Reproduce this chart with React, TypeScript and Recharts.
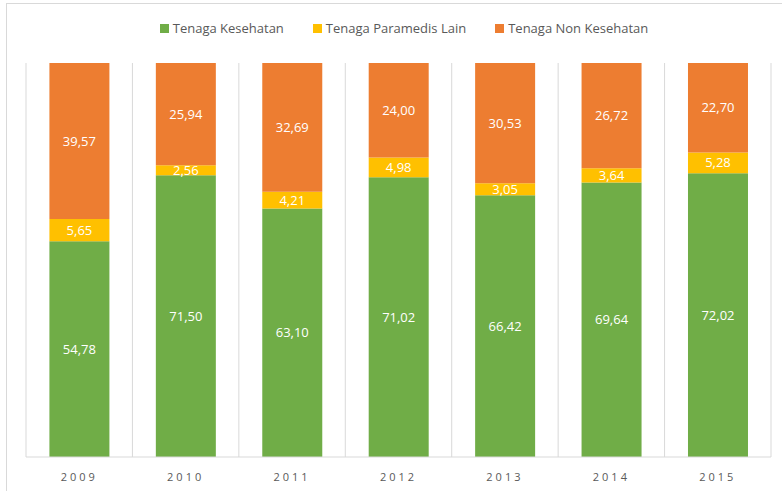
import React from 'react';
import { BarChart, Bar, XAxis, YAxis, CartesianGrid, LabelList } from 'recharts';

const years = ['2009', '2010', '2011', '2012', '2013', '2014', '2015'];
const kesehatan = [54.78, 71.5, 63.1, 71.02, 66.42, 69.64, 72.02];
const paramedis = [5.65, 2.56, 4.21, 4.98, 3.05, 3.64, 5.28];
const nonKesehatan = [39.57, 25.94, 32.69, 24.0, 30.53, 26.72, 22.7];
const gridTicks = [0, 1, 2, 3, 4, 5, 6, 7];

const series = [
  { key: 'kesehatan', name: 'Tenaga Kesehatan', color: '#70AD47' },
  { key: 'paramedis', name: 'Tenaga Paramedis Lain', color: '#FFC000' },
  { key: 'nonKesehatan', name: 'Tenaga Non Kesehatan', color: '#ED7D31' },
];

const data = years.map((year, i) => ({
  year,
  pos: i + 0.5,
  kesehatan: kesehatan[i],
  paramedis: paramedis[i],
  nonKesehatan: nonKesehatan[i],
}));

const FONT = '"Open Sans", sans-serif';
const fmt = (v: any) => Number(v).toFixed(2).replace('.', ',');

export default function App() {
  return (
    <div style={{ position: 'absolute', left: 0, top: 0, width: 782, height: 491, overflow: 'hidden', background: '#fff', fontFamily: FONT }}>
      <div
        style={{
          position: 'absolute',
          left: 6,
          top: 3,
          width: 800,
          height: 520,
          border: '1px solid #D9D9D9',
        }}
      />
      {/* legend */}
      <div
        style={{
          position: 'absolute',
          left: 0,
          top: 18,
          width: 808,
          display: 'flex',
          justifyContent: 'center',
          gap: 29,
          fontSize: 13,
          color: '#595959',
          lineHeight: '20px',
        }}
      >
        {series.map((s) => (
          <div key={s.key} style={{ display: 'flex', alignItems: 'center' }}>
            <span style={{ display: 'inline-block', width: 9, height: 9, background: s.color, marginRight: 4 }} />
            <span>{s.name}</span>
          </div>
        ))}
      </div>
      <div style={{ position: 'absolute', left: 0, top: 0 }}>
        <BarChart
          width={782}
          height={491}
          data={data}
          margin={{ top: 63, right: 11, left: 26, bottom: 0 }}
          barCategoryGap="22%"
          style={{ fontFamily: FONT }}
        >
          <XAxis
            xAxisId="grid"
            type="number"
            dataKey="pos"
            domain={[0, 7]}
            ticks={gridTicks}
            hide
          />
          <CartesianGrid xAxisId="grid" horizontal={false} stroke="#D9D9D9" />
          <XAxis
            xAxisId="cat"
            dataKey="year"
            height={34}
            axisLine={{ stroke: '#D9D9D9' }}
            tickLine={false}
            tick={{ fill: '#595959', fontSize: 11, letterSpacing: 3 }}
            tickMargin={10}
          />
          <YAxis domain={[0, 100]} hide />
          {series.map((s) => (
            <Bar
              key={s.key}
              xAxisId="cat"
              dataKey={s.key}
              name={s.name}
              stackId="a"
              fill={s.color}
              isAnimationActive={false}
            >
              <LabelList
                dataKey={s.key}
                position="center"
                fill="#ffffff"
                fontSize={13}
                fontFamily={FONT}
                formatter={fmt}
              />
            </Bar>
          ))}
        </BarChart>
      </div>
    </div>
  );
}
